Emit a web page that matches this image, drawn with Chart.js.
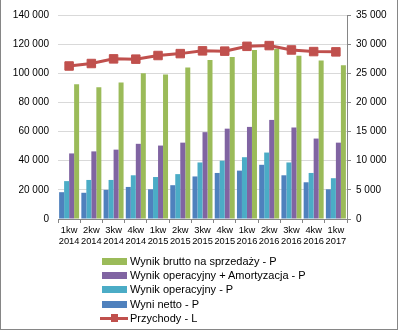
<!DOCTYPE html>
<html>
<head>
<meta charset="utf-8">
<script src="https://cdn.jsdelivr.net/npm/chart.js@4"></script>
<style>
    body { margin: 0; background: #fff; }
    .wrap { position: relative; width: 398px; height: 330px; }
    .frame {
        position: absolute; left: 0; top: 0; width: 396px; height: 329px;
        border-left: 1px solid #868686; border-right: 1px solid #868686; border-bottom: 1px solid #868686;
        pointer-events: none;
    }
    #legend {
        position: absolute; left: 100px; top: 254px;
        font-family: "Liberation Sans", Arial, sans-serif; font-size: 11px; color: #000;
    }
    .item { position: relative; height: 14.2px; line-height: 14.2px; padding-left: 30px; white-space: nowrap; }
    .box { position: absolute; left: 2px; top: 4px; width: 25px; height: 7px; }
    .line { position: absolute; left: 0; top: 6px; width: 28px; height: 3px; }
    .mark { position: absolute; left: 11px; top: 3.5px; width: 7px; height: 8px; }
</style>
</head>
<body>
<div class="wrap">
    <canvas id="chart" width="398" height="330"></canvas>
    <div id="legend"></div>
    <div class="frame"></div>
</div>
<script>
const categories = [
    ['1kw', '2014'], ['2kw', '2014'], ['3kw', '2014'], ['4kw', '2014'],
    ['1kw', '2015'], ['2kw', '2015'], ['3kw', '2015'], ['4kw', '2015'],
    ['1kw', '2016'], ['2kw', '2016'], ['3kw', '2016'], ['4kw', '2016'],
    ['1kw', '2017']
];

// right axis (P)
const wyniNetto = [4600, 4500, 5000, 5500, 5100, 5800, 7300, 7900, 8300, 9300, 7500, 6300, 5100];
const wynikOperacyjny = [6500, 6700, 6700, 7500, 7200, 7700, 9700, 10000, 10600, 11400, 9700, 7900, 7000];
const wynikOperAmort = [11250, 11600, 11900, 12900, 12600, 13100, 14900, 15500, 15800, 17000, 15700, 13800, 13100];
const wynikBrutto = [23100, 22600, 23400, 25000, 24800, 26000, 27300, 27800, 29000, 29200, 28000, 27200, 26400];

// left axis (L)
const przychody = [105000, 106700, 109900, 109700, 112200, 113500, 115400, 115200, 118500, 119000, 116000, 114900, 114700];

const leftTicks = [0, 20000, 40000, 60000, 80000, 100000, 120000, 140000];
const rightTicks = [0, 5000, 10000, 15000, 20000, 25000, 30000, 35000];

const fmt = v => String(v).replace(/\B(?=(\d{3})+(?!\d))/g, ' ');
const tickFont = { family: '"Liberation Sans", Arial, sans-serif', size: 10 };

const ctx = document.getElementById('chart').getContext('2d');
const chart = new Chart(ctx, {
    type: 'bar',
    data: {
        labels: categories,
        datasets: [
            {
                type: 'line', label: 'Przychody - L', data: przychody, yAxisID: 'yL', order: 0,
                borderColor: '#C0504D', backgroundColor: '#C0504D', borderWidth: 3,
                pointStyle: 'rect', pointRadius: 6, pointBorderWidth: 1, tension: 0
            },
            { label: 'Wyni netto - P', data: wyniNetto, yAxisID: 'yR', backgroundColor: '#4F81BD', order: 1 },
            { label: 'Wynik operacyjny - P', data: wynikOperacyjny, yAxisID: 'yR', backgroundColor: '#4BACC6', order: 1 },
            { label: 'Wynik operacyjny + Amortyzacja - P', data: wynikOperAmort, yAxisID: 'yR', backgroundColor: '#8064A2', order: 1 },
            { label: 'Wynik brutto na sprzedaży - P', data: wynikBrutto, yAxisID: 'yR', backgroundColor: '#9BBB59', order: 1 }
        ]
    },
    options: {
        responsive: false,
        devicePixelRatio: 1,
        animation: false,
        categoryPercentage: 0.9,
        barPercentage: 1,
        layout: { padding: { left: 0, right: 0, top: 12, bottom: 81 } },
        plugins: {
            legend: { display: false },
            tooltip: { enabled: false }
        },
        scales: {
            x: {
                afterFit: s => { s.height = 30; },
                grid: { drawOnChartArea: false, drawTicks: true, tickLength: 4, color: '#868686', offset: true },
                border: { display: true, color: '#868686' },
                ticks: { font: { family: tickFont.family, size: 9.3 }, color: '#000', padding: 2, maxRotation: 0, autoSkip: false }
            },
            yL: {
                position: 'left',
                min: 0, max: 140000,
                afterFit: s => { s.width = 58; },
                afterBuildTicks: s => { s.ticks = leftTicks.map(v => ({ value: v })); },
                grid: { color: '#D9D9D9', drawTicks: false },
                border: { display: false },
                ticks: { font: tickFont, color: '#000', padding: 9, callback: v => fmt(v) }
            },
            yR: {
                position: 'right',
                min: 0, max: 35000,
                afterFit: s => { s.width = 51; },
                afterBuildTicks: s => { s.ticks = rightTicks.map(v => ({ value: v })); },
                grid: { drawOnChartArea: false, drawTicks: true, tickLength: 4, color: '#868686' },
                border: { display: true, color: '#868686' },
                ticks: { font: tickFont, color: '#000', padding: 5, callback: v => fmt(v) }
            }
        }
    }
});

// legend in Excel order: bars reversed, line last
const legend = document.getElementById('legend');
const legendOrder = [4, 3, 2, 1, 0];
legendOrder.forEach(i => {
    const ds = chart.data.datasets[i];
    const row = document.createElement('div');
    row.className = 'item';
    if (ds.type === 'line') {
        row.innerHTML = '<span class="line" style="background:' + ds.borderColor + '"></span>' +
            '<span class="mark" style="background:' + ds.borderColor + '"></span>';
    } else {
        row.innerHTML = '<span class="box" style="background:' + ds.backgroundColor + '"></span>';
    }
    row.appendChild(document.createTextNode(ds.label));
    legend.appendChild(row);
});
</script>
</body>
</html>
